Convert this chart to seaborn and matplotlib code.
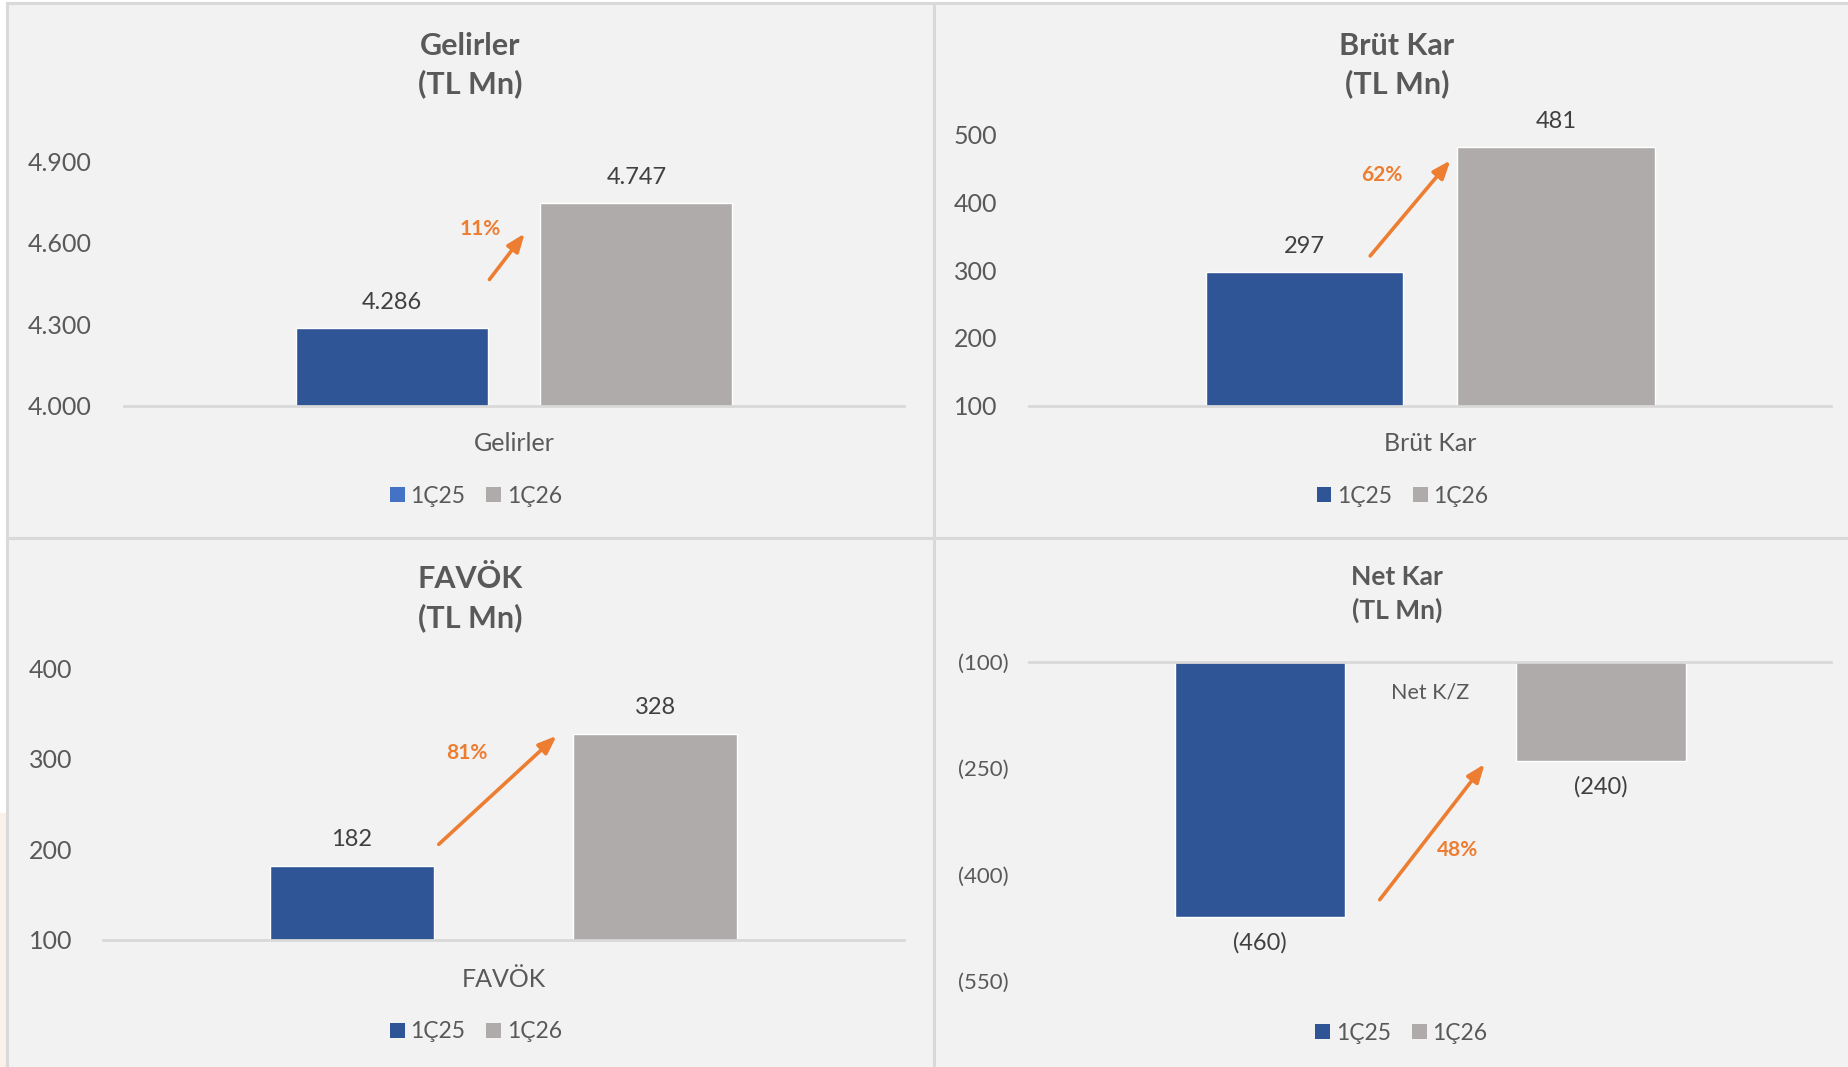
import matplotlib
matplotlib.use("Agg")
import matplotlib.pyplot as plt
from matplotlib.patches import Rectangle, Patch
import seaborn as sns
import pandas as pd

# ---------------- data ----------------
periods = ["1Ç25", "1Ç26"]
gelirler_vals = [4286, 4747]
brut_vals = [297, 481]
favok_vals = [182, 328]
netkar_vals = [-460, -240]
growth_labels = ["11%", "62%", "81%", "48%"]
gelirler_ticks = [4000, 4300, 4600, 4900]
brut_ticks = [100, 200, 300, 400, 500]
favok_ticks = [100, 200, 300, 400]
netkar_ticks = [-100, -250, -400, -550]

sns.set_theme(style="white")
plt.rcParams["font.family"] = ["Lato", "DejaVu Sans"]

BLUE = "#2F5597"
GRAY = "#AFABAB"
ORANGE = "#ED7D31"
TXT = "#595959"
LBL = "#404040"
BG = "#F2F2F2"
BORDER = "#D9D9D9"

W, H = 1849, 1067
fig = plt.figure(figsize=(W / 100, H / 100), dpi=100)
fig.patch.set_facecolor("white")

def fx(px):
    return px / W

def fy(py):
    return 1 - py / H

# faint tint strip at the left edge (bottom)
fig.patches.append(Rectangle((0, 0), fx(7), (H - 813) / H,
                             transform=fig.transFigure, facecolor="#FBF1EC",
                             edgecolor="none", zorder=-6))

# panel backgrounds
for (x0, y0, x1, y1) in [(7, 3, 934, 538), (934, 3, 1852, 538),
                         (7, 538, 934, 1070), (934, 538, 1852, 1070)]:
    fig.patches.append(Rectangle((fx(x0), fy(y1)), fx(x1 - x0), (y1 - y0) / H,
                                 transform=fig.transFigure, facecolor=BG,
                                 edgecolor=BORDER, linewidth=2.2, zorder=-5))

def dot_fmt(v):
    return f"{v:,.0f}".replace(",", ".")

def paren_fmt(v):
    return f"({abs(v):,.0f})" if v < 0 else f"{v:,.0f}"

def make_panel(rect_px, cat, vals, ticks, ylim, fmt, width, gap, title, title_xy,
               title_size, arrow, pct_xy, pct_text, legend_xy, legend_colors,
               xlab_pad, ytick_pad, tick_size, xlab_size=18, inverted=False):
    x0, y0, x1, y1 = rect_px
    ax = fig.add_axes([fx(x0), fy(y1), fx(x1 - x0), (y1 - y0) / H])
    ax.set_facecolor("none")
    ax.set_zorder(2)
    df = pd.DataFrame({"cat": [cat] * len(vals), "period": periods, "val": vals})
    sns.barplot(data=df, x="cat", y="val", hue="period", palette=[BLUE, GRAY],
                width=width, gap=gap, ax=ax, legend=False, saturation=1)
    ax.set_xlim(-0.5, 0.5)
    ax.set_ylim(*ylim)
    ax.set_yticks(ticks)
    ax.set_yticklabels([fmt(t) for t in ticks])
    ax.set_xlabel("")
    ax.set_ylabel("")
    for s in ["left", "right", "top", "bottom"]:
        ax.spines[s].set_visible(False)
    if inverted:
        ax.spines["top"].set_visible(True)
        ax.spines["top"].set_color(BORDER)
        ax.spines["top"].set_linewidth(2)
        ax.tick_params(axis="x", labeltop=True, labelbottom=False, top=False,
                       bottom=False, pad=-xlab_pad, labelsize=xlab_size,
                       labelcolor=TXT)
        for t in ax.get_xticklabels():
            t.set_va("top")
    else:
        ax.spines["bottom"].set_visible(True)
        ax.spines["bottom"].set_color(BORDER)
        ax.spines["bottom"].set_linewidth(2)
        ax.tick_params(axis="x", bottom=False, pad=xlab_pad, labelsize=xlab_size,
                       labelcolor=TXT)
    ax.tick_params(axis="y", left=False, pad=ytick_pad, labelsize=tick_size,
                   labelcolor=TXT)
    for cont in ax.containers:
        ax.bar_label(cont, labels=[fmt(v) for v in cont.datavalues],
                     padding=11, fontsize=17, color=LBL, clip_on=False)
    # growth arrow
    ax.annotate("", xy=arrow[1], xytext=arrow[0], xycoords="axes fraction",
                textcoords="axes fraction",
                arrowprops=dict(arrowstyle="-|>,head_length=0.9,head_width=0.35",
                                color=ORANGE, lw=2.6, shrinkA=0, shrinkB=0))
    ax.text(pct_xy[0], pct_xy[1], pct_text, transform=ax.transAxes,
            ha="center", va="center", color=ORANGE, fontsize=15,
            fontweight="bold")
    fig.text(fx(title_xy[0]), fy(title_xy[1]), title, ha="center", va="center",
             fontsize=title_size, fontweight="bold", color=TXT,
             linespacing=1.4)
    handles = [Patch(facecolor=c, edgecolor="none") for c in legend_colors]
    fig.legend(handles, periods, loc="center",
               bbox_to_anchor=(fx(legend_xy[0]), fy(legend_xy[1])),
               ncol=2, frameon=False, fontsize=16.5, labelcolor=TXT,
               handlelength=0.65, handleheight=0.65, handletextpad=0.25,
               columnspacing=0.9)
    return ax

make_panel((124, 161.5, 904, 405.6), "Gelirler", gelirler_vals, gelirler_ticks,
           (4000, 4900), dot_fmt, 0.628, 0.216, "Gelirler\n(TL Mn)",
           (470.5, 65), 22,
           ((0.4685, 0.5166), (0.5137, 0.705)), (0.4563, 0.7248), growth_labels[0],
           (475.8, 496.4), ["#4472C4", GRAY], 13, 17, 18)

make_panel((1029.4, 134.4, 1831.3, 405.6), "Brüt Kar", brut_vals, brut_ticks,
           (100, 500), paren_fmt, 0.627, 0.215, "Brüt Kar\n(TL Mn)",
           (1397, 65), 22,
           ((0.425, 0.552), (0.525, 0.904)), (0.4397, 0.852), growth_labels[1],
           (1402.6, 496.4), [BLUE, GRAY], 13, 17, 18)

make_panel((102.6, 668.6, 904.4, 939.8), "FAVÖK", favok_vals, favok_ticks,
           (100, 400), paren_fmt, 0.756, 0.46, "FAVÖK\n(TL Mn)",
           (470.5, 598.5), 22,
           ((0.4192, 0.352), (0.5662, 0.752)), (0.4545, 0.687), growth_labels[2],
           (475.8, 1031.8), [BLUE, GRAY], 14, 16, 18)

make_panel((1029.4, 661.5, 1831.3, 981.1), "Net K/Z", netkar_vals, netkar_ticks,
           (-550, -100), paren_fmt, 0.85, 0.5, "Net Kar\n(TL Mn)",
           (1397, 594), 19,
           ((0.4369, 0.2547), (0.5677, 0.679)), (0.5337, 0.4096), growth_labels[3],
           (1401.5, 1033), [BLUE, GRAY], 21, 9, 16, xlab_size=15.5, inverted=True)

fig.savefig("out.png", dpi=100, facecolor=fig.get_facecolor())
